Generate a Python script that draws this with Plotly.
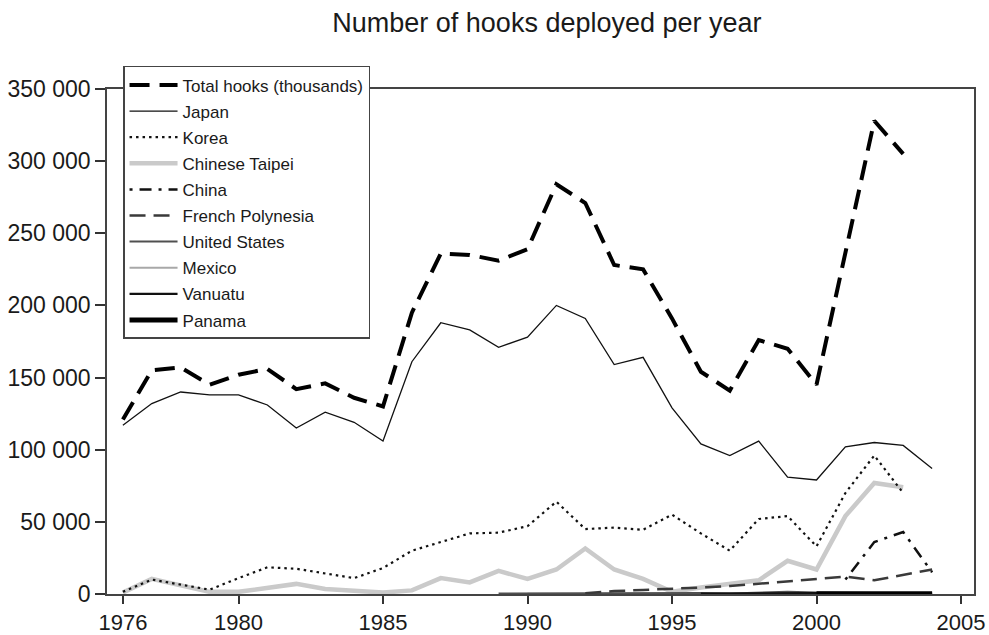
import plotly.graph_objects as go

years = list(range(1976, 2005))

total = [121000, 155000, 157000, 145000, 152000, 156000, 142000, 146000, 136000, 130000,
         195000, 236000, 235000, 231000, 239000, 284000, 271000, 228000, 225000, 191000,
         154000, 141000, 176000, 170000, 145000, 235000, 328000, 305000, None]
japan = [117000, 132000, 140000, 138000, 138000, 131000, 115000, 126000, 119000, 106000,
         161000, 188000, 183000, 171000, 178000, 200000, 191000, 159000, 164000, 129000,
         104000, 96000, 106000, 81000, 79000, 102000, 105000, 103000, 87000]
korea = [1500, 10000, 6500, 3000, 11000, 18500, 17500, 14500, 11000, 18000,
         30000, 36000, 42000, 42500, 47000, 64000, 45000, 46000, 44500, 55000,
         42000, 30000, 52000, 54000, 33000, 70000, 96000, 70000, None]
taipei = [1000, 10500, 6000, 1500, 1500, 4000, 7000, 3500, 2500, 1000,
          2500, 11000, 8000, 16000, 10500, 17000, 31500, 17000, 10500, 1500,
          4500, 7000, 9500, 23000, 17000, 54000, 77000, 74000, None]
china = [None] * 25 + [10000, 36000, 43000, 15000]
french_polynesia = [None] * 16 + [500, 2000, 2800, 3500, 4500, 5500, 7000, 9000, 10000,
                                  12000, 9500, 13500, 17000]
united_states = [None] * 13 + [300, 400, 600, 800, 900, 1000, 900, 700, 300, 800, 1500,
                               1000, 900, 600, 400, 300]
mexico = [None] * 14 + [200, 200, 300, 300, 300, 200, 200, 300, 300, 400, 300, 300, 200,
                        200, 200]
vanuatu = [None] * 20 + [300, 500, 600, 800, 700, 600, 500, 400, 300]
panama = [None] * 24 + [200, 300, 300, 200, 200]

ytick_vals = [0, 50000, 100000, 150000, 200000, 250000, 300000, 350000]
ytick_text = ["0", "50 000", "100 000", "150 000", "200 000", "250 000", "300 000", "350 000"]
xtick_vals = [1976, 1980, 1985, 1990, 1995, 2000, 2005]

title_text = "Number of hooks deployed per year"

FONT = "Liberation Sans, Arial, sans-serif"

# (name, data, color, width, dash, legend rank)
series = [
    ("Chinese Taipei", taipei, "#cacaca", 4.5, "solid", 4),
    ("Mexico", mexico, "#a8a8a8", 2, "solid", 8),
    ("United States", united_states, "#505050", 2, "solid", 7),
    ("Vanuatu", vanuatu, "#111111", 2.2, "solid", 9),
    ("Panama", panama, "#000000", 5, "solid", 10),
    ("French Polynesia", french_polynesia, "#3a3a3a", 2.5, "16px,8px", 6),
    ("China", china, "#111111", 2.5, "3px,7px,12px,7px", 5),
    ("Korea", korea, "#111111", 2.2, "2.5px,4px", 3),
    ("Japan", japan, "#111111", 1.3, "solid", 2),
    ("Total hooks (thousands)", total, "#000000", 4, "20px,10px", 1),
]

fig = go.Figure()
for name, data, color, width, dash, rank in series:
    fig.add_trace(go.Scatter(
        x=years, y=data, name=name, mode="lines",
        line=dict(color=color, width=width, dash=dash),
        legendrank=rank, legendgroup=name,
    ))

fig.update_layout(
    width=989, height=635,
    margin=dict(l=107, r=15, t=89, b=41, autoexpand=False),
    paper_bgcolor="white", plot_bgcolor="white",
    font=dict(family=FONT, color="#1a1a1a"),
    title=dict(text=title_text, x=0.553, xref="container", xanchor="center",
               y=0.965, yref="container", yanchor="middle",
               font=dict(size=27, family=FONT, color="#1a1a1a")),
    showlegend=True,
    legend=dict(
        x=0.0185, y=1.0456, xanchor="left", yanchor="top",
        bgcolor="white", bordercolor="#444444", borderwidth=1.5,
        font=dict(size=17, family=FONT, color="#1a1a1a"),
        itemwidth=48, tracegroupgap=1, traceorder="grouped",
    ),
    xaxis=dict(
        range=[1975.45, 2005.45], tickvals=xtick_vals, ticks="outside", ticklen=8,
        tickwidth=1.5, tickcolor="#333333", showgrid=False, zeroline=False,
        showline=True, linecolor="#444444", linewidth=1.5, mirror=True,
        automargin=False,
        tickfont=dict(size=22, family=FONT, color="#1a1a1a"),
    ),
    yaxis=dict(
        range=[0, 350000], tickvals=ytick_vals, ticktext=ytick_text, ticks="outside",
        ticklen=10, tickwidth=1.5, tickcolor="#333333", showgrid=False, zeroline=False,
        showline=True, linecolor="#444444", linewidth=1.5, mirror=True,
        automargin=False,
        tickfont=dict(size=23, family=FONT, color="#1a1a1a"),
    ),
)

page_css = (
    "document.documentElement.style.overflow='hidden';"
    "document.body.style.margin='0';"
    "document.body.style.overflow='hidden';"
)
fig.write_html("out.html", post_script=page_css,
               config={"displayModeBar": False, "responsive": False})
